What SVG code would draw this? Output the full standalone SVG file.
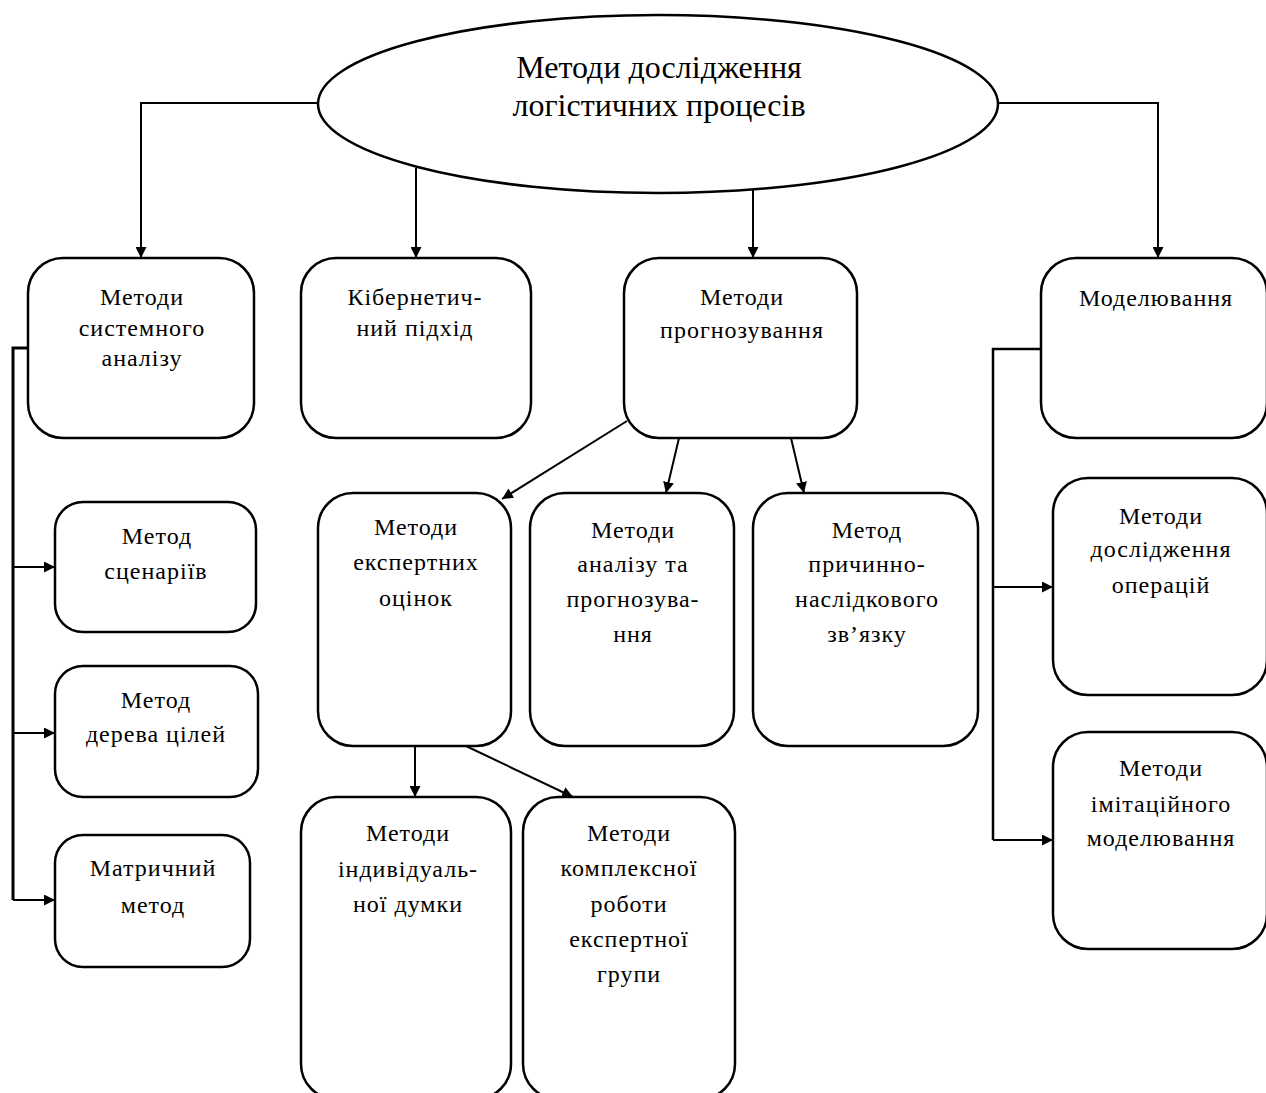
<svg xmlns="http://www.w3.org/2000/svg" width="1266" height="1093" viewBox="0 0 1266 1093">
  <style>
    .box { fill: #fff; stroke: #000; stroke-width: 2.5; }
    .lbl { font-family: "Liberation Serif", "Times New Roman", serif; font-size: 24px; letter-spacing: 1px; fill: #000; text-anchor: middle; }
    .ttl { font-family: "Liberation Serif", "Times New Roman", serif; font-size: 32px; fill: #000; text-anchor: middle; }
    .ln { fill: none; stroke: #000; stroke-width: 2; }
    .arr { marker-end: url(#ah); }
  </style>
  <defs>
    <marker id="ah" viewBox="0 0 10 10" refX="10" refY="5" markerWidth="11" markerHeight="11" markerUnits="userSpaceOnUse" orient="auto">
      <path d="M0,0 L10,5 L0,10 Z" fill="#000"/>
    </marker>
  </defs>
  <rect width="1266" height="1093" fill="#fff"/>

  <g id="connectors">
    <polyline class="ln arr" points="319,103 141,103 141,258"/>
    <line class="ln arr" x1="416" y1="168" x2="416" y2="258"/>
    <line class="ln arr" x1="753" y1="190" x2="753" y2="258"/>
    <polyline class="ln arr" points="998,103 1158,103 1158,258"/>
    <polyline class="ln" points="28,348 13,348 13,900" style="stroke-width:3"/>
    <line class="ln arr" x1="13" y1="567" x2="55" y2="567"/>
    <line class="ln arr" x1="13" y1="733" x2="55" y2="733"/>
    <line class="ln arr" x1="13" y1="900" x2="55" y2="900"/>
    <polyline class="ln" points="1041,349 993,349 993,840" style="stroke-width:2.5"/>
    <line class="ln arr" x1="993" y1="587" x2="1053" y2="587"/>
    <line class="ln arr" x1="993" y1="840" x2="1053" y2="840"/>
    <line class="ln arr" x1="627" y1="421" x2="502" y2="499"/>
    <line class="ln arr" x1="679" y1="438" x2="666" y2="493"/>
    <line class="ln arr" x1="791" y1="438" x2="804" y2="493"/>
    <line class="ln arr" x1="415" y1="746" x2="415" y2="797"/>
    <line class="ln arr" x1="466" y1="746" x2="573" y2="797"/>
  </g>

  <g id="root">
    <ellipse cx="658" cy="104" rx="340" ry="89" fill="#fff" stroke="#000" stroke-width="2.5"/>
    <text class="ttl" x="659" y="78">Методи дослідження</text>
    <text class="ttl" x="659" y="116">логістичних процесів</text>
  </g>

  <g id="system-analysis">
    <rect class="box" x="28" y="258" width="226" height="180" rx="35"/>
    <text class="lbl" x="142" y="305">Методи</text>
    <text class="lbl" x="142" y="336">системного</text>
    <text class="lbl" x="142" y="366">аналізу</text>
  </g>
  <g id="cybernetic">
    <rect class="box" x="301" y="258" width="230" height="180" rx="35"/>
    <text class="lbl" x="415" y="305">Кібернетич-</text>
    <text class="lbl" x="415" y="336">ний підхід</text>
  </g>
  <g id="forecasting">
    <rect class="box" x="624" y="258" width="233" height="180" rx="35"/>
    <text class="lbl" x="742" y="305">Методи</text>
    <text class="lbl" x="742" y="338">прогнозування</text>
  </g>
  <g id="modelling">
    <rect class="box" x="1041" y="258" width="226" height="180" rx="35"/>
    <text class="lbl" x="1156" y="306">Моделювання</text>
  </g>

  <g id="scenarios">
    <rect class="box" x="55" y="502" width="201" height="130" rx="28"/>
    <text class="lbl" x="157" y="544">Метод</text>
    <text class="lbl" x="156" y="579">сценаріїв</text>
  </g>
  <g id="goal-tree">
    <rect class="box" x="55" y="666" width="203" height="131" rx="28"/>
    <text class="lbl" x="156" y="708">Метод</text>
    <text class="lbl" x="156" y="742">дерева цілей</text>
  </g>
  <g id="matrix">
    <rect class="box" x="55" y="835" width="195" height="132" rx="28"/>
    <text class="lbl" x="153" y="876">Матричний</text>
    <text class="lbl" x="153" y="913">метод</text>
  </g>

  <g id="expert">
    <rect class="box" x="318" y="493" width="193" height="253" rx="35"/>
    <text class="lbl" x="416" y="535">Методи</text>
    <text class="lbl" x="416" y="570">експертних</text>
    <text class="lbl" x="416" y="606">оцінок</text>
  </g>
  <g id="analysis-forecast">
    <rect class="box" x="530" y="493" width="204" height="253" rx="35"/>
    <text class="lbl" x="633" y="538">Методи</text>
    <text class="lbl" x="633" y="572">аналізу та</text>
    <text class="lbl" x="633" y="607">прогнозува-</text>
    <text class="lbl" x="633" y="642">ння</text>
  </g>
  <g id="causal">
    <rect class="box" x="753" y="493" width="225" height="253" rx="35"/>
    <text class="lbl" x="867" y="538">Метод</text>
    <text class="lbl" x="867" y="572">причинно-</text>
    <text class="lbl" x="867" y="607">наслідкового</text>
    <text class="lbl" x="867" y="642">зв’язку</text>
  </g>

  <g id="individual">
    <rect class="box" x="301" y="797" width="210" height="302" rx="35"/>
    <text class="lbl" x="408" y="841">Методи</text>
    <text class="lbl" x="408" y="877">індивідуаль-</text>
    <text class="lbl" x="408" y="912">ної думки</text>
  </g>
  <g id="group-work">
    <rect class="box" x="523" y="797" width="212" height="302" rx="35"/>
    <text class="lbl" x="629" y="841">Методи</text>
    <text class="lbl" x="629" y="876">комплексної</text>
    <text class="lbl" x="629" y="912">роботи</text>
    <text class="lbl" x="629" y="947">експертної</text>
    <text class="lbl" x="629" y="982">групи</text>
  </g>

  <g id="operations-research">
    <rect class="box" x="1053" y="478" width="214" height="217" rx="35"/>
    <text class="lbl" x="1161" y="524">Методи</text>
    <text class="lbl" x="1161" y="557">дослідження</text>
    <text class="lbl" x="1161" y="593">операцій</text>
  </g>
  <g id="simulation">
    <rect class="box" x="1053" y="732" width="214" height="217" rx="35"/>
    <text class="lbl" x="1161" y="776">Методи</text>
    <text class="lbl" x="1161" y="812">імітаційного</text>
    <text class="lbl" x="1161" y="846">моделювання</text>
  </g>
</svg>
